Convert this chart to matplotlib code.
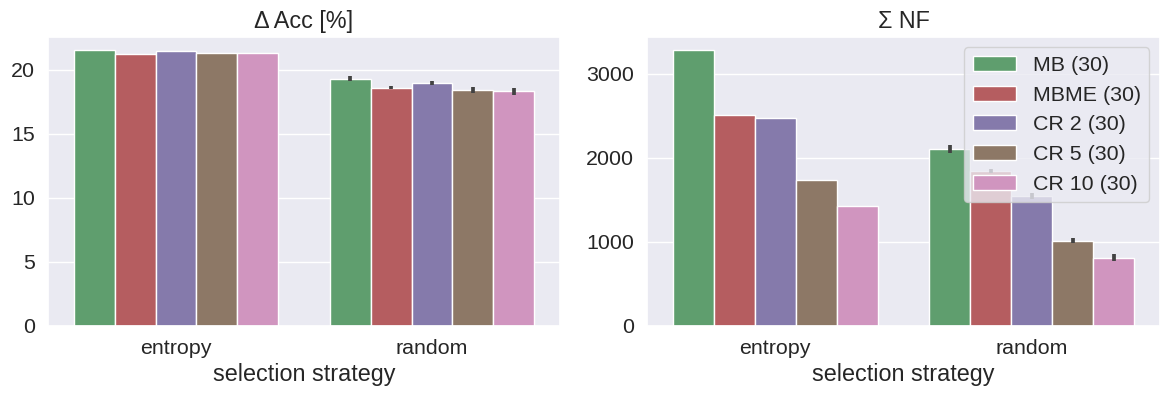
import matplotlib
matplotlib.use("Agg")
import matplotlib.pyplot as plt
import numpy as np
import seaborn as sns

sns.set_theme(style="darkgrid", font_scale=1.4)
plt.rcParams['font.family'] = ['Liberation Sans', 'DejaVu Sans']

strategies = ["entropy", "random"]
methods = ["MB (30)", "MBME (30)", "CR 2 (30)", "CR 5 (30)", "CR 10 (30)"]

acc_entropy = [21.52, 21.23, 21.44, 21.36, 21.30]
acc_random = [19.32, 18.61, 18.95, 18.45, 18.32]
acc_random_err = [0.20, 0.12, 0.15, 0.22, 0.25]

nf_entropy = [3276, 2509, 2478, 1732, 1421]
nf_random = [2103, 1840, 1544, 1014, 811]
nf_random_err = [42, 25, 40, 24, 44]

base = sns.color_palette("deep")[2:7]
colors = [sns.desaturate(c, 0.75) for c in base]

W, H = 1169, 395
fig = plt.figure(figsize=(W / 100, H / 100), dpi=100)
ax1 = fig.add_axes([48 / W, 1 - 325.7 / H, (560 - 48) / W, (325.7 - 36.7) / H])
ax2 = fig.add_axes([647 / W, 1 - 325.7 / H, (1160 - 647) / W, (325.7 - 36.7) / H])

def draw(ax, ent, rnd, rerr, title, legend=False):
    x = np.arange(len(strategies))
    n = len(methods)
    w = 0.8 / n
    for i, m in enumerate(methods):
        pos = x - 0.4 + w * (i + 0.5)
        vals = [ent[i], rnd[i]]
        ax.bar(pos, vals, width=w, color=colors[i], edgecolor="white", linewidth=1, label=m, zorder=2)
        ax.errorbar(pos[1], rnd[i], yerr=rerr[i], fmt="none", ecolor=".26", elinewidth=2.7, zorder=3)
    ax.set_xticks(x)
    ax.set_xticklabels(strategies)
    ax.set_xlim(-0.5, 1.5)
    ax.xaxis.grid(False)
    ax.set_xlabel("selection strategy")
    ax.set_ylabel("")
    ax.set_title(title)
    if legend:
        ax.legend(loc="upper right")

draw(ax1, acc_entropy, acc_random, acc_random_err, "Δ Acc [%]")
draw(ax2, nf_entropy, nf_random, nf_random_err, "Σ NF", legend=True)

fig.savefig("out.png", dpi=100)
